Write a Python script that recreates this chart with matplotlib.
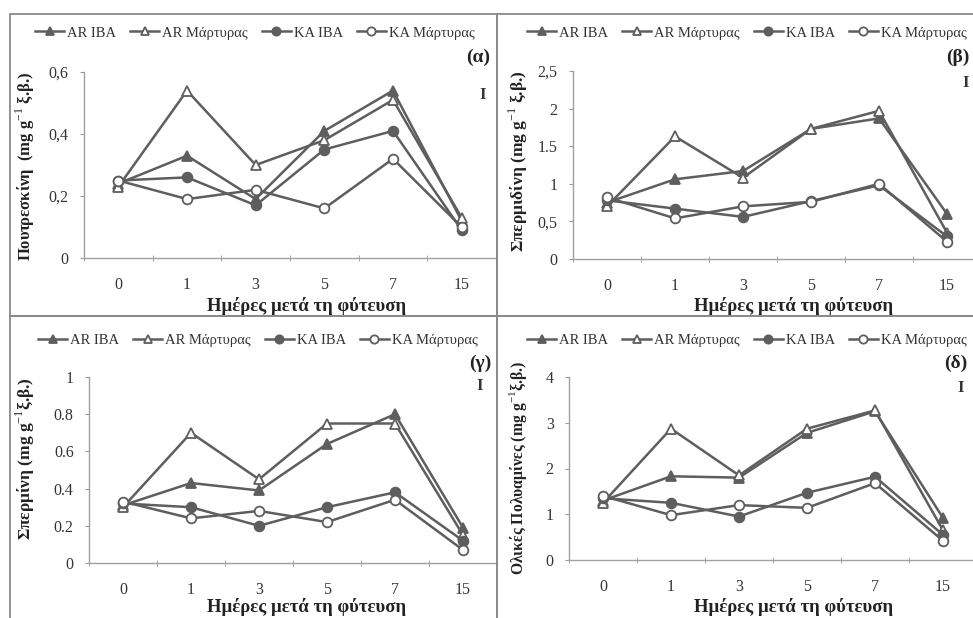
import matplotlib
matplotlib.use("Agg")
import matplotlib.pyplot as plt
from matplotlib.patches import Rectangle

plt.rcParams['font.family'] = ['Liberation Serif', 'DejaVu Serif']
plt.rcParams['mathtext.fontset'] = 'custom'
plt.rcParams['mathtext.rm'] = 'Liberation Serif'
plt.rcParams['mathtext.bf'] = 'Liberation Serif:bold'

days = ['0', '1', '3', '5', '7', '15']
series_names = ['AR IBA', 'AR Μάρτυρας', 'KA IBA', 'KA Μάρτυρας']

# Πουτρεσκίνη
put_ar_iba = [0.24, 0.33, 0.19, 0.41, 0.54, 0.12]
put_ar_mart = [0.23, 0.54, 0.30, 0.38, 0.51, 0.13]
put_ka_iba = [0.25, 0.26, 0.17, 0.35, 0.41, 0.09]
put_ka_mart = [0.25, 0.19, 0.22, 0.16, 0.32, 0.10]

# Σπερμιδίνη
spd_ar_iba = [0.75, 1.06, 1.17, 1.73, 1.87, 0.60]
spd_ar_mart = [0.70, 1.63, 1.08, 1.73, 1.97, 0.35]
spd_ka_iba = [0.78, 0.67, 0.56, 0.77, 0.98, 0.30]
spd_ka_mart = [0.82, 0.54, 0.70, 0.76, 1.00, 0.23]

# Σπερμίνη
spm_ar_iba = [0.31, 0.43, 0.39, 0.64, 0.80, 0.19]
spm_ar_mart = [0.30, 0.70, 0.45, 0.75, 0.75, 0.15]
spm_ka_iba = [0.32, 0.30, 0.20, 0.30, 0.38, 0.12]
spm_ka_mart = [0.33, 0.24, 0.28, 0.22, 0.34, 0.07]

# Ολικές Πολυαμίνες
tot_ar_iba = [1.30, 1.83, 1.80, 2.78, 3.25, 0.92]
tot_ar_mart = [1.25, 2.87, 1.85, 2.87, 3.27, 0.65]
tot_ka_iba = [1.35, 1.25, 0.95, 1.47, 1.82, 0.55]
tot_ka_mart = [1.40, 0.98, 1.20, 1.14, 1.68, 0.42]

W, H = 973, 618
fig = plt.figure(figsize=(W / 100, H / 100), dpi=100)
fig.patch.set_facecolor('white')


def rect(l, t, r, b):
    return [l / W, 1 - b / H, (r - l) / W, (b - t) / H]


line_c = '#5e5e5e'
styles = [
    dict(marker='^', mfc=line_c, mec=line_c),
    dict(marker='^', mfc='white', mec=line_c),
    dict(marker='o', mfc=line_c, mec=line_c),
    dict(marker='o', mfc='white', mec=line_c),
]

panels = [
    dict(box=(84, 72, 496, 258), frame=(10, 14, 497, 316),
         data=[put_ar_iba, put_ar_mart, put_ka_iba, put_ka_mart],
         ylim=0.6, yticks=[0, 0.2, 0.4, 0.6], ylabels=['0', '0,2', '0,4', '0,6'],
         ylab='Πουτρεσκίνη  (mg g$^{-1}$ ξ.β.)', ylab_xy=(25, 166), ylab_fs=12,
         tag='(α)', tag_xy=(478, 57), bar_xy=(483, 95), leg_xy=(35, 33), xlab_xy=(307, 306)),
    dict(box=(573, 71, 981, 259), frame=(497, 14, 985, 316),
         data=[spd_ar_iba, spd_ar_mart, spd_ka_iba, spd_ka_mart],
         ylim=2.5, yticks=[0, 0.5, 1, 1.5, 2, 2.5], ylabels=['0', '0,5', '1', '1.5', '2', '2,5'],
         ylab='Σπερμιδίνη (mg g$^{-1}$ ξ.β.)', ylab_xy=(518, 161), ylab_fs=12.5,
         tag='(β)', tag_xy=(958, 57), bar_xy=(966, 83), leg_xy=(527, 33), xlab_xy=(794, 306)),
    dict(box=(89, 377, 497, 563), frame=(10, 316, 497, 630),
         data=[spm_ar_iba, spm_ar_mart, spm_ka_iba, spm_ka_mart],
         ylim=1.0, yticks=[0, 0.2, 0.4, 0.6, 0.8, 1], ylabels=['0', '0.2', '0.4', '0.6', '0.8', '1'],
         ylab='Σπερμίνη (mg g$^{-1}$ξ.β.)', ylab_xy=(25, 459), ylab_fs=12.5,
         tag='(γ)', tag_xy=(480, 363), bar_xy=(480, 386), leg_xy=(38, 340), xlab_xy=(307, 607)),
    dict(box=(569, 377, 977, 560), frame=(497, 316, 985, 630),
         data=[tot_ar_iba, tot_ar_mart, tot_ka_iba, tot_ka_mart],
         ylim=4, yticks=[0, 1, 2, 3, 4], ylabels=['0', '1', '2', '3', '4'],
         ylab='Ολικές Πολυαμίνες (mg g$^{-1}$ξ.β.)', ylab_xy=(518, 468), ylab_fs=11.3,
         tag='(δ)', tag_xy=(956, 363), bar_xy=(961, 388), leg_xy=(527, 340), xlab_xy=(794, 607)),
]

for p in panels:
    l, t, r, b = p['frame']
    fig.patches.append(Rectangle((l / W, 1 - b / H), (r - l) / W, (b - t) / H,
                                 transform=fig.transFigure, fill=False,
                                 edgecolor='#8a8a8a', lw=1.3))

for p in panels:
    ax = fig.add_axes(rect(*p['box']))
    ax.patch.set_alpha(0)
    x = range(len(days))
    for name, vals, st in zip(series_names, p['data'], styles):
        ax.plot(x, vals, color=line_c, lw=1.8, ms=7, mew=1.3, label=name, clip_on=False, **st)
    ax.set_xlim(-0.5, len(days) - 0.5)
    ax.set_ylim(0, p['ylim'])
    ax.set_xticks(list(x))
    ax.set_xticklabels(days, fontsize=11.5, color='#333333')
    ax.set_xticks([i + 0.5 for i in range(-1, len(days))], minor=True)
    ax.tick_params(axis='x', which='major', length=0, pad=14)
    ax.tick_params(axis='x', which='minor', length=4, direction='inout', color='#999999')
    ax.set_yticks(p['yticks'])
    ax.set_yticklabels(p['ylabels'], fontsize=11.5, color='#333333')
    ax.tick_params(axis='y', length=3, color='#999999', pad=8)
    for s in ['top', 'right']:
        ax.spines[s].set_visible(False)
    for s in ['left', 'bottom']:
        ax.spines[s].set_color('#a0a0a0')
        ax.spines[s].set_linewidth(1.0)

    fig.text(p['xlab_xy'][0] / W, 1 - p['xlab_xy'][1] / H, 'Ημέρες μετά τη φύτευση',
             ha='center', va='center', fontsize=13.5, fontweight='bold', color='#222222')
    fig.text(p['ylab_xy'][0] / W, 1 - p['ylab_xy'][1] / H, p['ylab'], rotation=90,
             ha='center', va='center', fontsize=p['ylab_fs'], fontweight='bold', color='#222222')
    fig.text(p['tag_xy'][0] / W, 1 - p['tag_xy'][1] / H, p['tag'],
             ha='center', va='center', fontsize=14, fontweight='bold', color='#222222')
    fig.text(p['bar_xy'][0] / W, 1 - p['bar_xy'][1] / H, 'I',
             ha='center', va='center', fontsize=12, fontweight='bold', color='#333333')

    leg = ax.legend(loc='center left', ncol=4, frameon=False, fontsize=10.5,
                    bbox_to_anchor=(p['leg_xy'][0] / W, 1 - p['leg_xy'][1] / H),
                    bbox_transform=fig.transFigure, borderaxespad=0, borderpad=0,
                    handlelength=2.0, handletextpad=0.2, columnspacing=0.95, markerscale=0.85)
    for txt in leg.get_texts():
        txt.set_color('#333333')

fig.savefig('out.png', dpi=100)
